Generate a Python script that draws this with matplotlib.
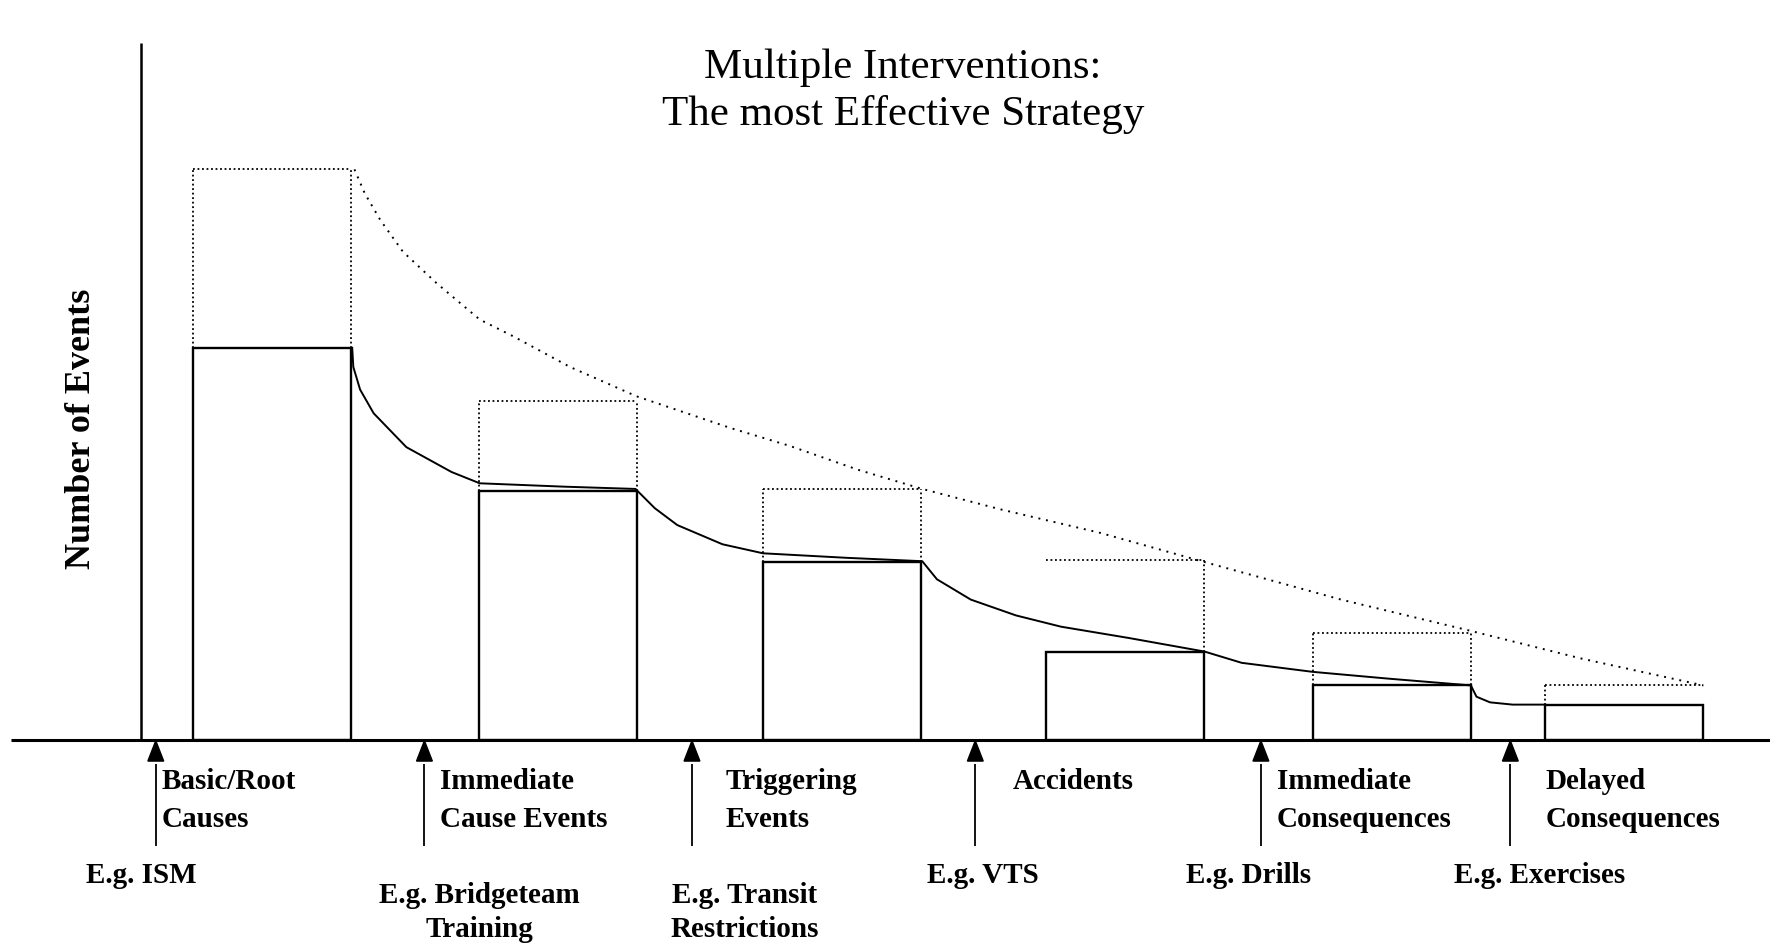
import matplotlib.pyplot as plt

# stages of the chain (bars), values in arbitrary "number of events" units
stages = ['Basic/Root\nCauses', 'Immediate\nCause Events', 'Triggering\nEvents',
          'Accidents', 'Immediate\nConsequences', 'Delayed\nConsequences']
bar_x = [241, 494, 746, 997, 1233, 1439]
with_interventions = [347, 220, 157, 78, 48, 31]
without_interventions = [505, 300, 222, 159, 94, 48]

# intervention points along the chain and their examples
interv_x = [138, 376, 613, 864, 1117, 1338]
examples = ['E.g. ISM', 'E.g. Bridgeteam\nTraining', 'E.g. Transit\nRestrictions',
            'E.g. VTS', 'E.g. Drills', 'E.g. Exercises']

# trend curves
trend_x = [314, 323, 337, 357, 387, 425, 455, 505, 564, 647, 700, 760, 817, 886, 975, 1068, 1188, 1300, 1400, 1509]
trend_y = [505, 484, 460, 432, 404, 372, 357, 330, 304, 276, 260, 239, 222, 204, 183, 157, 124, 97, 72, 48]

curve_x = [312, 313, 319, 331, 360, 400, 425, 500, 563, 580, 600, 640, 676, 750, 817, 830, 860,
           900, 940, 1000, 1067, 1100, 1163, 1230, 1303, 1308, 1320, 1340, 1369]
curve_y = [347, 330, 310, 289, 259, 237, 227, 224, 222, 205, 190, 173, 165, 161, 158, 142, 124,
           110, 100, 90, 78, 68, 60, 54, 48, 38, 33, 31, 31]

# layout
bar_w = 140
label_x = [143, 390, 643, 897, 1131, 1369]
example_x = [125, 425, 660, 871, 1106, 1364]
example_top = [-108, -126, -126, -108, -108, -108]
# which dotted sides are drawn (left, right) for each box
dotted_sides = [(1, 1), (1, 1), (1, 1), (0, 1), (1, 1), (1, 0)]

serif = 'Liberation Serif'

fig = plt.figure(figsize=(17.7, 9.44), dpi=100)
ax = fig.add_axes([0, 0, 1, 1])
ax.set_xlim(0, 1568)
ax.set_ylim(-181, 655)
ax.axis('off')

# axes lines
ax.hlines(0, 10, 1568, color='black', lw=2.2, zorder=5)
ax.vlines(125, 0, 617, color='black', lw=1.8)

# bars with interventions
ax.bar(bar_x, with_interventions, width=bar_w, color='white', edgecolor='black', lw=1.7, zorder=3)

# dotted boxes without interventions
for x, h_lo, h_hi, (ls, rs) in zip(bar_x, with_interventions, without_interventions, dotted_sides):
    x0, x1 = x - bar_w / 2, x + bar_w / 2
    ax.plot([x0, x1], [h_hi, h_hi], color='black', ls=(0, (1, 1.5)), lw=1.3, zorder=2)
    if ls:
        ax.plot([x0, x0], [h_lo, h_hi], color='black', ls=(0, (1, 1.5)), lw=1.3, zorder=2)
    if rs:
        ax.plot([x1, x1], [h_lo, h_hi], color='black', ls=(0, (1, 1.5)), lw=1.3, zorder=2)

ax.plot(trend_x, trend_y, color='black', ls=(0, (1, 3)), lw=1.4, zorder=2)
ax.plot(curve_x, curve_y, color='black', lw=1.4, zorder=4)

# intervention arrows
for x in interv_x:
    ax.fill([x - 7, x + 7, x], [-19, -19, -1], color='black', zorder=6)
    ax.vlines(x, -94, -22, color='black', lw=1.3)

for x, s in zip(label_x, stages):
    ax.text(x, -25, s, ha='left', va='top', fontsize=21, fontweight='bold',
            family=serif, linespacing=1.55)

for x, y, s in zip(example_x, example_top, examples):
    ax.text(x, y, s, ha='center', va='top', fontsize=21, fontweight='bold',
            family=serif, linespacing=1.35, multialignment='center')

ax.text(800, 574, 'Multiple Interventions:\nThe most Effective Strategy', ha='center', va='center',
        fontsize=31, family=serif, linespacing=1.25)
ax.text(72, 380 - 105, 'Number of Events', rotation=90, ha='center', va='center',
        fontsize=26, fontweight='bold', family=serif)

fig.savefig('out.png', dpi=100)
